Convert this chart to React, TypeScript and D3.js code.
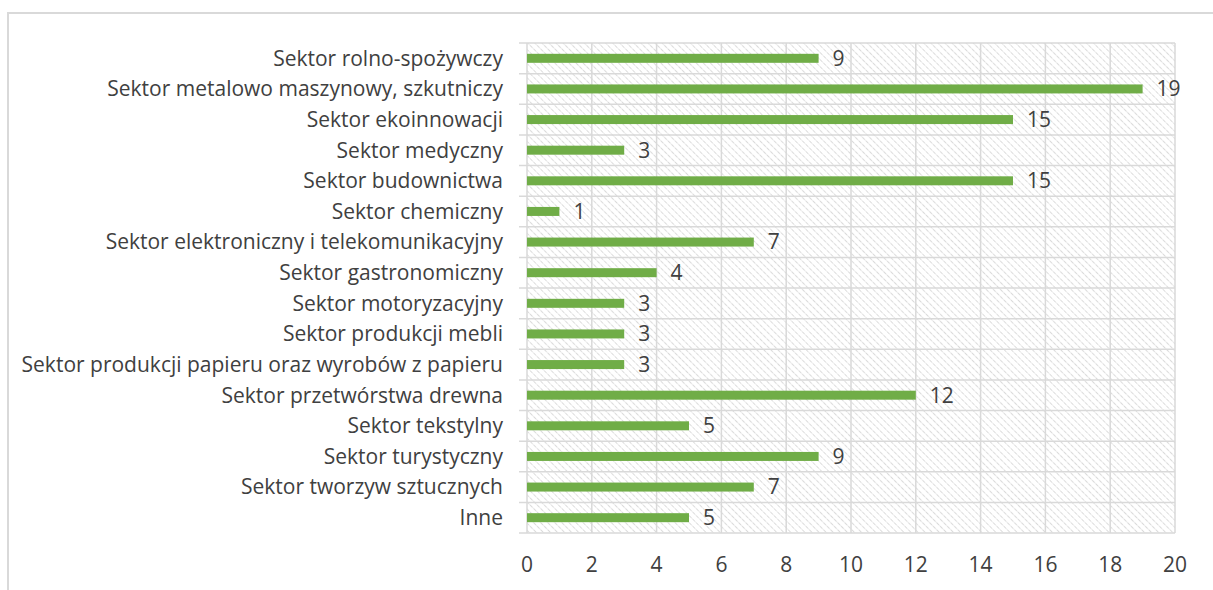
import * as d3 from "d3";

const categories = [
  "Sektor rolno-spożywczy",
  "Sektor metalowo maszynowy, szkutniczy",
  "Sektor ekoinnowacji",
  "Sektor medyczny",
  "Sektor budownictwa",
  "Sektor chemiczny",
  "Sektor elektroniczny i telekomunikacyjny",
  "Sektor gastronomiczny",
  "Sektor motoryzacyjny",
  "Sektor produkcji mebli",
  "Sektor produkcji papieru oraz wyrobów z papieru",
  "Sektor przetwórstwa drewna",
  "Sektor tekstylny",
  "Sektor turystyczny",
  "Sektor tworzyw sztucznych",
  "Inne",
];

const values = [9, 19, 15, 3, 15, 1, 7, 4, 3, 3, 3, 12, 5, 9, 7, 5];

const xTicks = [0, 2, 4, 6, 8, 10, 12, 14, 16, 18, 20];

const WIDTH = 1213;
const HEIGHT = 590;
const margin = { top: 43, right: 38, bottom: 57, left: 527 };

export default function App() {
  const w = WIDTH - margin.left - margin.right;
  const h = HEIGHT - margin.top - margin.bottom;

  const x = d3.scaleLinear().domain([0, 20]).range([0, w]);
  const y = d3.scaleBand<string>().domain(categories).range([0, h]).paddingInner(0).paddingOuter(0);
  const barH = 9;
  const textColor = "#404040";
  const gridColor = "#d9d9d9";
  const font = "'Open Sans', sans-serif";
  const fs = 21;

  return (
    <svg
      width={WIDTH}
      height={HEIGHT}
      style={{ position: "absolute", left: 0, top: 0, background: "#fff" }}
    >
      <defs>
        <pattern id="hatch" width={5} height={5} patternUnits="userSpaceOnUse" patternTransform="rotate(-45)">
          <line x1={0} y1={0} x2={0} y2={5} stroke="#cfcfcf" strokeWidth={1.5} strokeDasharray="2.5 1" />
        </pattern>
      </defs>
      {/* chart border */}
      <path d={`M8,${HEIGHT} V13 H${WIDTH}`} fill="none" stroke={gridColor} strokeWidth={2} />
      <g transform={`translate(${margin.left},${margin.top})`}>
        <rect x={0} y={0} width={w} height={h} fill="url(#hatch)" />
        {xTicks.map((t) => (
          <line key={t} x1={x(t)} x2={x(t)} y1={0} y2={h} stroke={gridColor} strokeWidth={1.5} />
        ))}
        {categories.map((c) => (
          <line key={c} x1={-8} x2={w} y1={y(c) ?? 0} y2={y(c) ?? 0} stroke={gridColor} strokeWidth={1.5} />
        ))}
        <line x1={-8} x2={w} y1={h} y2={h} stroke={gridColor} strokeWidth={1.5} />
        {categories.map((c, i) => {
          const cy = (y(c) ?? 0) + y.bandwidth() / 2;
          return (
            <g key={c}>
              <rect x={x(0)} y={cy - barH / 2} width={x(values[i]) - x(0)} height={barH} fill="#70ad47" />
              <text
                x={x(values[i]) + 14}
                y={cy}
                dy="0.35em"
                fontFamily={font}
                fontSize={fs}
                fill={textColor}
              >
                {values[i]}
              </text>
              <text
                x={-24}
                y={cy}
                dy="0.35em"
                textAnchor="end"
                fontFamily={font}
                fontSize={fs}
                fill={textColor}
              >
                {c}
              </text>
            </g>
          );
        })}
        {xTicks.map((t) => (
          <text
            key={t}
            x={x(t)}
            y={h + 32}
            dy="0.35em"
            textAnchor="middle"
            fontFamily={font}
            fontSize={fs}
            fill={textColor}
          >
            {t}
          </text>
        ))}
      </g>
    </svg>
  );
}
